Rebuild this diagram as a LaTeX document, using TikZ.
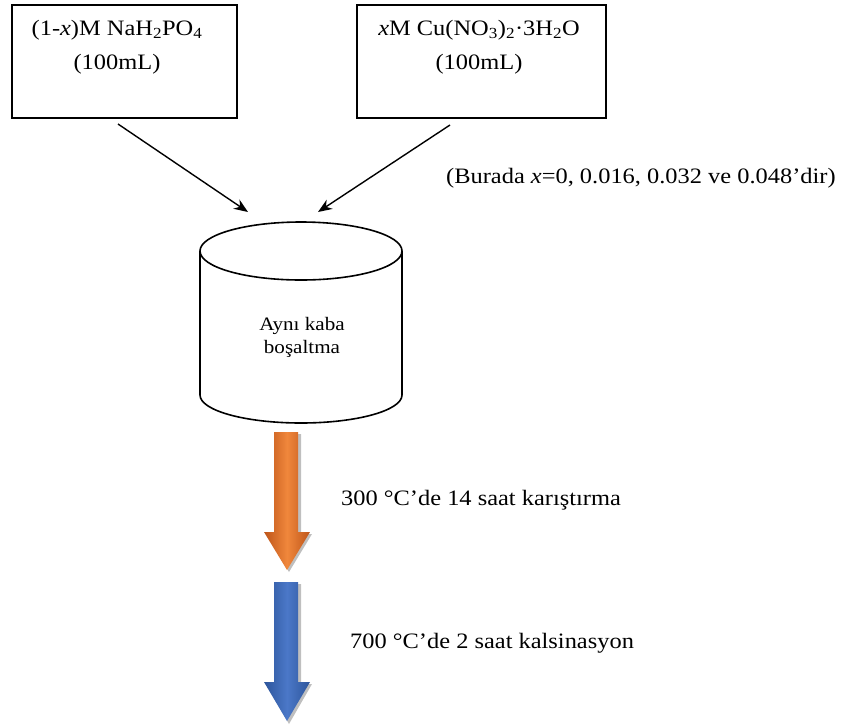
\documentclass[tikz,border=0pt]{standalone}
\usepackage{fontspec}
\setmainfont[FakeStretch=1.11]{Liberation Serif}
\usetikzlibrary{arrows.meta}

\definecolor{turuncuK}{RGB}{190,85,25}
\definecolor{turuncuA}{RGB}{240,135,60}
\definecolor{maviK}{RGB}{45,85,155}
\definecolor{maviA}{RGB}{75,120,200}

\tikzset{
  yazi/.style={font=\fontsize{22}{34}\selectfont, align=center, inner sep=0pt},
  kutu/.style={draw, line width=1.8pt, inner sep=0pt},
  ok/.style={line width=1.4pt, -{Stealth[length=14pt,width=11pt]}}
}

\begin{document}
\begin{tikzpicture}[x=1pt, y=-1pt]
  \useasboundingbox (0,0) rectangle (846,724);

  % kutular
  \node[kutu, minimum width=225pt, minimum height=113pt] (k1) at (124.5,61.5) {};
  \node[kutu, minimum width=249pt, minimum height=113pt] (k2) at (481.5,61.5) {};
  \node[yazi, anchor=north] (k1y) at (117,20) {(1-\textit{x})M NaH\textsubscript{2}PO\textsubscript{4}\\(100mL)};
  \node[yazi, anchor=north] (k2y) at (479,20) {\textit{x}M Cu(NO\textsubscript{3})\textsubscript{2}·3H\textsubscript{2}O\\(100mL)};

  \node[yazi, anchor=west] (not) at (446,178) {(Burada \textit{x}=0, 0.016, 0.032 ve 0.048’dir)};

  % kap
  \draw[line width=1.6pt, fill=white] (200,251) -- (200,395) arc[start angle=180, end angle=0, x radius=101, y radius=28] -- (402,251);
  \draw[line width=1.6pt, fill=white] (301,251) ellipse[x radius=101, y radius=29];
  \node[yazi, font=\fontsize{19}{23}\selectfont] (kap) at (302,337) {Aynı kaba\\boşaltma};
  \coordinate (g1) at (248,212);
  \coordinate (g2) at (318,212);

  \draw[ok] (118,124) -- (g1);
  \draw[ok] (450,125) -- (g2);

  % kalin oklar
  \fill[black!25] (277,434) -- (301,434) -- (301,534) -- (312,534) -- (289,572) -- (266,534) -- (277,534) -- cycle;
  \shade[left color=turuncuK, right color=turuncuK, middle color=turuncuA]
    (274,432) -- (298,432) -- (298,532) -- (310,532) -- (287,570) -- (264,532) -- (274,532) -- cycle;
  \fill[black!25] (277,584) -- (301,584) -- (301,684) -- (312,684) -- (289,724) -- (266,684) -- (277,684) -- cycle;
  \shade[left color=maviK, right color=maviK, middle color=maviA]
    (274,582) -- (298,582) -- (298,682) -- (310,682) -- (287,721) -- (264,682) -- (274,682) -- cycle;

  \node[yazi, anchor=west] (a1) at (341,500) {300 °C’de 14 saat karıştırma};
  \node[yazi, anchor=west] (a2) at (350,643) {700 °C’de 2 saat kalsinasyon};
\end{tikzpicture}
\end{document}
